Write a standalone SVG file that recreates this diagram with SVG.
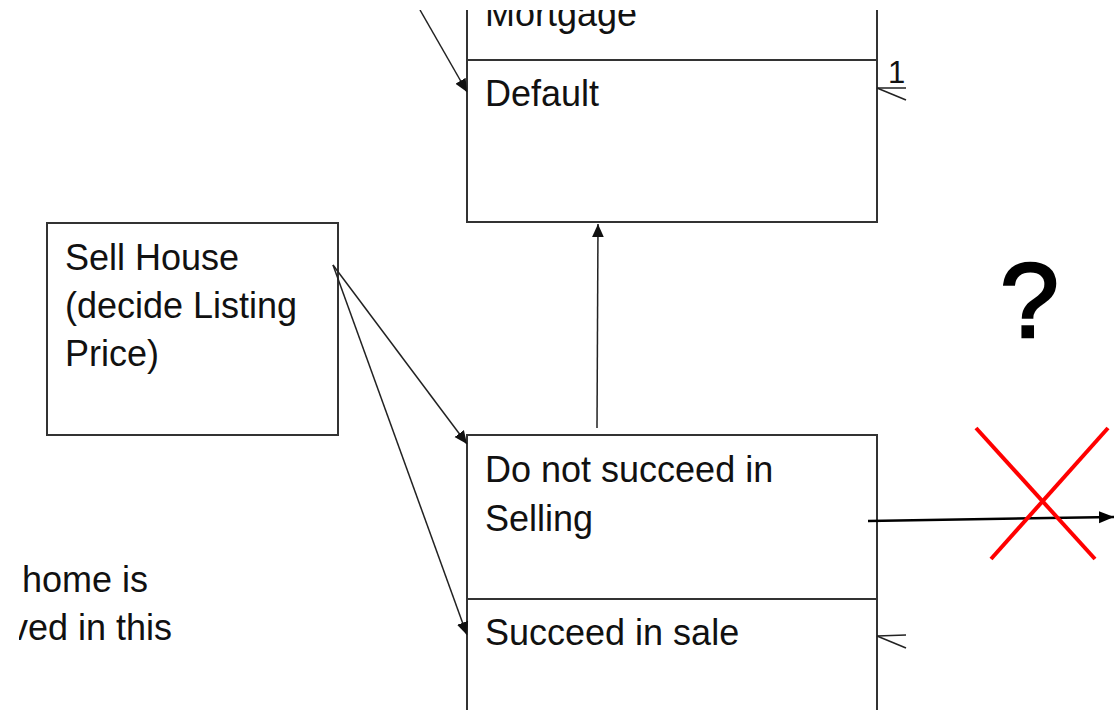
<svg xmlns="http://www.w3.org/2000/svg" width="1118" height="712" viewBox="0 0 1118 712">
<style>
.box{fill:#fff;stroke:#333;stroke-width:2}
.div{stroke:#333;stroke-width:2}
.t{font-family:"Liberation Sans",Arial,sans-serif;font-size:36px;fill:#111}
.c{stroke:#222;stroke-width:1.5;fill:none}
</style>
<defs>
<marker id="ah" viewBox="0 0 10 10" refX="10" refY="5" markerWidth="13" markerHeight="13" markerUnits="userSpaceOnUse" orient="auto">
<path d="M0,0.5 L10,5 L0,9.5 z" fill="#111"/>
</marker>
<marker id="ah2" viewBox="0 0 10 10" refX="10" refY="5" markerWidth="15" markerHeight="15" markerUnits="userSpaceOnUse" orient="auto">
<path d="M0,1 L10,5 L0,9 z" fill="#000"/>
</marker>
<clipPath id="page"><rect x="0" y="10" width="1118" height="700"/></clipPath>
<clipPath id="leftclip"><rect x="19" y="540" width="300" height="120"/></clipPath>
</defs>
<rect width="1118" height="712" fill="#fff"/>
<g clip-path="url(#page)">
<g id="mortgage">
<rect class="box" x="467" y="-20" width="410" height="242"/>
<line class="div" x1="467" y1="60" x2="877" y2="60"/>
<text class="t" x="485" y="26">Mortgage</text>
<text class="t" x="485" y="106">Default</text>
</g>
<g id="sell-house">
<rect class="box" x="47" y="223" width="291" height="212"/>
<text class="t" x="65" y="270">Sell House</text>
<text class="t" x="65" y="318">(decide Listing</text>
<text class="t" x="65" y="366">Price)</text>
</g>
<g id="outcome">
<rect class="box" x="467" y="435" width="410" height="300"/>
<line class="div" x1="467" y1="599" x2="877" y2="599"/>
<text class="t" x="485" y="482">Do not succeed in</text>
<text class="t" x="485" y="531">Selling</text>
<text class="t" x="485" y="645">Succeed in sale</text>
</g>
<g id="note" clip-path="url(#leftclip)">
<text class="t" x="22" y="592">home is</text>
<text class="t" x="10" y="640">ved in this</text>
</g>
<g id="question">
<text x="1000" y="337" style="font-family:'Liberation Sans',Arial,sans-serif;font-size:106px;fill:#000;stroke:#000;stroke-width:2.5">?</text>
</g>
<g id="connectors">
<line class="c" x1="420" y1="10" x2="467" y2="92" marker-end="url(#ah)"/>
<line class="c" x1="333" y1="265" x2="467" y2="444" marker-end="url(#ah)"/>
<line class="c" x1="333" y1="265" x2="467" y2="635" marker-end="url(#ah)"/>
<line class="c" x1="597" y1="428" x2="598" y2="224" marker-end="url(#ah)"/>
<line x1="868" y1="521" x2="1114" y2="517" stroke="#000" stroke-width="2.5" marker-end="url(#ah2)"/>
<g id="crow-top" class="c">
<line x1="877" y1="88" x2="906" y2="88"/>
<line x1="877" y1="88" x2="906" y2="100"/>
</g>
<text x="888" y="83" style="font-family:'Liberation Sans',Arial,sans-serif;font-size:31px;fill:#111">1</text>
<g id="crow-bottom" class="c">
<line x1="877" y1="636" x2="906" y2="635"/>
<line x1="877" y1="636" x2="906" y2="648"/>
</g>
</g>
<g id="cross" stroke="#ff0000" stroke-width="4">
<line x1="976" y1="428" x2="1095" y2="559"/>
<line x1="1108" y1="428" x2="991" y2="559"/>
</g>
</g>
</svg>
